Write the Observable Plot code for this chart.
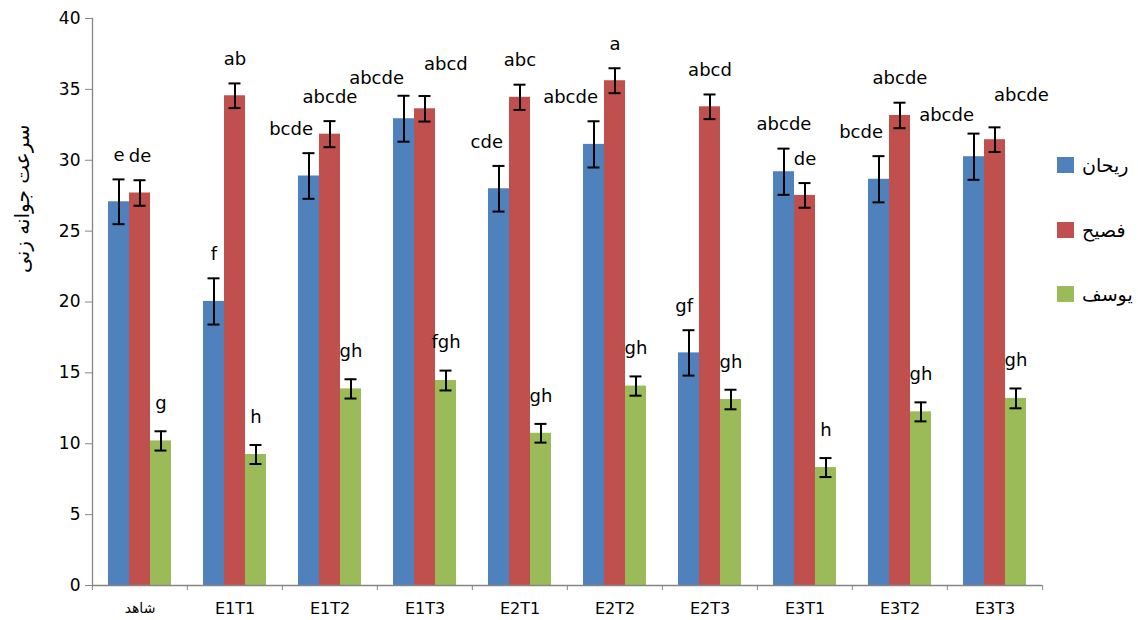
<!DOCTYPE html>
<html>
<head>
<meta charset="utf-8">
<script src="https://cdn.jsdelivr.net/npm/d3@7"></script>
<script src="https://cdn.jsdelivr.net/npm/@observablehq/plot@0.6"></script>
<style>
  body { margin: 0; background: #fff; }
  #wrap { position: relative; width: 1138px; height: 620px; font-family: "DejaVu Sans", sans-serif; color: #000; }
  #legend { position: absolute; left: 1057px; top: 152px; }
  .item { display: flex; align-items: center; height: 26px; margin-bottom: 38.5px; direction: ltr; }
  .sw { width: 17px; height: 16px; margin-right: 8px; }
  .lab { font-size: 19px; direction: rtl; }
</style>
</head>
<body>
<div id="wrap"><div id="legend"></div></div>
<script>
// Treatments along the x axis
const categories = ["شاهد", "E1T1", "E1T2", "E1T3", "E2T1", "E2T2", "E2T3", "E3T1", "E3T2", "E3T3"];
// Cultivars
const seriesNames = ["ريحان", "فصيح", "يوسف"];
const seriesColors = ["#4F81BD", "#C0504D", "#9BBB59"];

// Germination rate means
const rayhan = [27.07, 20.04, 28.89, 32.93, 27.99, 31.12, 16.41, 29.19, 28.66, 30.25];
const fasih  = [27.69, 34.55, 31.84, 33.63, 34.44, 35.61, 33.77, 27.52, 33.16, 31.45];
const yusuf  = [10.20,  9.24, 13.87, 14.46, 10.74, 14.07, 13.12,  8.32, 12.25, 13.20];

// Standard errors
const rayhanErr = [1.58, 1.63, 1.61, 1.62, 1.61, 1.63, 1.60, 1.63, 1.63, 1.63];
const fasihErr  = [0.90, 0.87, 0.92, 0.90, 0.89, 0.88, 0.87, 0.87, 0.90, 0.87];
const yusufErr  = [0.68, 0.67, 0.68, 0.70, 0.66, 0.68, 0.69, 0.67, 0.67, 0.70];

// Mean-separation letters
const rayhanLetters = ["e", "f", "bcde", "abcde", "cde", "abcde", "gf", "abcde", "bcde", "abcde"];
const fasihLetters  = ["de", "ab", "abcde", "abcd", "abc", "a", "abcd", "de", "abcde", "abcde"];
const yusufLetters  = ["g", "h", "gh", "fgh", "gh", "gh", "gh", "h", "gh", "gh"];

const yTicks = [0, 5, 10, 15, 20, 25, 30, 35, 40];
const yTitle = "سرعت جوانه زنی";

const values = [rayhan, fasih, yusuf];
const errors = [rayhanErr, fasihErr, yusufErr];
const letters = [rayhanLetters, fasihLetters, yusufLetters];

const rows = [];
categories.forEach((c, i) => {
  seriesNames.forEach((s, j) => {
    rows.push({category: c, series: s, value: values[j][i], err: errors[j][i], letter: letters[j][i],
               group: j === 2 ? "low" : "mid"});
  });
});

// Keep letter labels clear of the neighbouring bar and of each other
const charW = 11, barW = 21;
for (let i = 0; i < categories.length; i++) {
  const a = rows[i * 3], b = rows[i * 3 + 1];
  const aTop = a.value + a.err, bTop = b.value + b.err;
  const aWide = a.letter.length * charW > barW;
  const pairWide = (a.letter.length + b.letter.length) * charW / 2 > barW - 3;
  if (Math.abs(aTop - bTop) < 1.2 && pairWide) { a.group = "endPair"; b.group = "startPair"; }
  else if (aWide && bTop > aTop) a.group = "endShift";
}

const W = 1138, H = 620;
const mL = 90, mR = 95, mT = 18, mB = 35;
const bandW = (W - mL - mR) / categories.length;
const axisGray = "#868686";

const labelBase = {
  fx: "category", x: "series", y: d => d.value + d.err,
  text: "letter", fontSize: 18, lineAnchor: "middle", fill: "#000"
};
const labelGroups = {
  mid:       {dy: -24},
  low:       {dy: -28},
  endShift:  {dy: -24, dx: 4, textAnchor: "end"},
  endPair:   {dy: -18, dx: 0, textAnchor: "end"},
  startPair: {dy: -32, dx: -1, textAnchor: "start"}
};
const labelMarks = Object.entries(labelGroups).map(([g, o]) =>
  Plot.text(rows.filter(d => d.group === g), {...labelBase, ...o}));

const chart = Plot.plot({
  width: W, height: H,
  marginLeft: mL, marginRight: mR, marginTop: mT, marginBottom: mB,
  style: {fontFamily: "DejaVu Sans, sans-serif", color: "#000", background: "transparent"},
  fx: {domain: categories, padding: 0, label: null},
  x: {domain: seriesNames, paddingInner: 0, paddingOuter: 0.76, axis: null},
  y: {domain: [0, 40], label: null},
  color: {domain: seriesNames, range: seriesColors},
  marks: [
    Plot.barY(rows, {fx: "category", x: "series", y: "value", fill: "series"}),
    Plot.ruleY([0], {stroke: axisGray, strokeWidth: 1.3}),
    Plot.frame({anchor: "left", stroke: axisGray, strokeWidth: 1.3, facetAnchor: "left"}),
    Plot.axisY({ticks: yTicks, tickSize: 7, tickPadding: 5, fontSize: 17, stroke: axisGray, label: null}),
    Plot.axisFx({anchor: "bottom", text: null, tickSize: 5, dx: -bandW / 2, stroke: axisGray, label: null}),
    Plot.axisFx({anchor: "bottom", ticks: [categories[categories.length - 1]], text: null, tickSize: 5, dx: bandW / 2, stroke: axisGray, label: null}),
    Plot.text(categories, {fx: d => d, text: d => d, frameAnchor: "bottom", dy: 23, lineAnchor: "middle",
      fontSize: d => /[A-Za-z]/.test(d) ? 16 : 14, fill: "#000"}),
    // error bars with caps
    Plot.ruleX(rows, {fx: "category", x: "series", y1: d => d.value - d.err, y2: d => d.value + d.err, stroke: "#000", strokeWidth: 2}),
    Plot.tickY(rows, {fx: "category", x: "series", y: d => d.value - d.err, stroke: "#000", strokeWidth: 2, insetLeft: 4.5, insetRight: 4.5}),
    Plot.tickY(rows, {fx: "category", x: "series", y: d => d.value + d.err, stroke: "#000", strokeWidth: 2, insetLeft: 4.5, insetRight: 4.5}),
    // letters
    ...labelMarks,
    // y axis title
    Plot.text([yTitle], {frameAnchor: "left", rotate: -90, dx: -70, dy: -29, fontSize: 20, fill: "#000", facetAnchor: "left"})
  ]
});

const wrap = document.getElementById("wrap");
wrap.insertBefore(chart, wrap.firstChild);

const legend = document.getElementById("legend");
seriesNames.forEach((s, j) => {
  const item = document.createElement("div");
  item.className = "item";
  item.innerHTML = `<div class="sw" style="background:${seriesColors[j]}"></div><div class="lab">${s}</div>`;
  legend.appendChild(item);
});
</script>
</body>
</html>
